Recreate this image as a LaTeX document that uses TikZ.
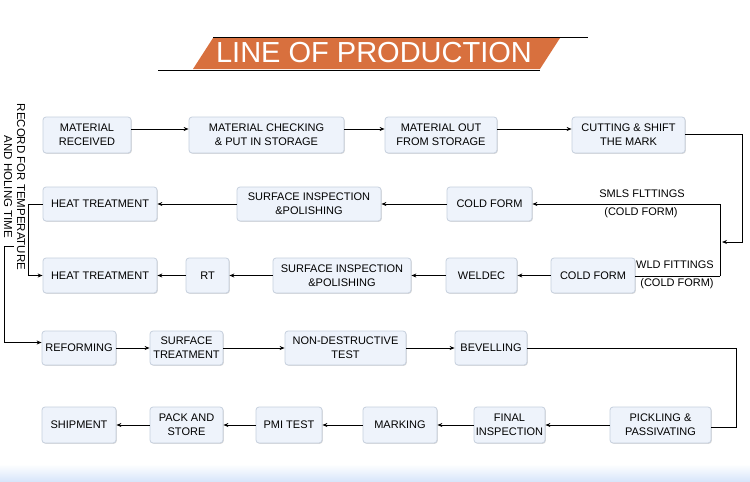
\documentclass[tikz,border=0pt]{standalone}
\usepackage{fontspec}
\setmainfont{Liberation Sans}
\usetikzlibrary{arrows.meta,shadows,calc}
\definecolor{boxfill}{RGB}{238,243,251}
\definecolor{boxline}{RGB}{198,208,222}
\definecolor{titleor}{RGB}{216,112,62}
\definecolor{bandblue}{RGB}{214,228,250}
\tikzset{
 box/.style={draw=boxline, fill=boxfill, rounded corners=3pt, line width=0.8pt, align=center, inner sep=0pt,
   font=\fontsize{11}{14}\selectfont,
   drop shadow={shadow xshift=0.8pt, shadow yshift=-0.8pt, opacity=0.15, fill=black}},
 arr/.style={line width=0.9pt, -{Stealth[length=5pt,width=4pt]}},
 ln/.style={line width=0.9pt},
 lbl/.style={font=\fontsize{11}{14}\selectfont, inner sep=0pt},
}
\newcommand\flowbox[6]{\node[box, minimum width={#4pt-#2pt}, minimum height={#5pt-#3pt}] (#1) at ({(#2+#4)/2},{(#3+#5)/2}) {#6};}
\begin{document}
\begin{tikzpicture}[x=1pt,y=-1pt]
\useasboundingbox (0,0) rectangle (750,482);
\fill[white] (0,0) rectangle (750,482);
\shade[top color=white, bottom color=bandblue] (0,464) rectangle (750,482);

% title
\fill[titleor] (213,38) -- (560,38) -- (540,69) -- (193,69) -- cycle;
\draw[line width=1pt] (213,37) -- (588,37);
\draw[line width=1pt] (158,70) -- (540,70);
\node[text=white, font=\fontsize{29}{30}\selectfont, inner sep=0pt] (title) at (374,53) {LINE OF PRODUCTION};

% boxes
\flowbox{mr}{43}{117}{131}{153}{MATERIAL\\RECEIVED}
\flowbox{mc}{189}{117}{344}{153}{MATERIAL CHECKING\\\& PUT IN STORAGE}
\flowbox{mo}{385}{117}{497}{153}{MATERIAL OUT\\FROM STORAGE}
\flowbox{cs}{572}{117}{685}{153}{CUTTING \& SHIFT\\THE MARK}
\flowbox{htA}{43}{187}{157}{221}{HEAT TREATMENT}
\flowbox{siA}{237}{187}{381}{221}{SURFACE INSPECTION\\\&POLISHING}
\flowbox{cfA}{447}{187}{532}{221}{COLD FORM}
\flowbox{htB}{43}{258}{157}{293}{HEAT TREATMENT}
\flowbox{rt}{186}{258}{229}{293}{RT}
\flowbox{siB}{273}{258}{411}{293}{SURFACE INSPECTION\\\&POLISHING}
\flowbox{wd}{446}{258}{517}{293}{WELDEC}
\flowbox{cfB}{551}{258}{635}{293}{COLD FORM}
\flowbox{rf}{42}{331}{116}{365}{REFORMING}
\flowbox{st}{150}{331}{223}{365}{SURFACE\\TREATMENT}
\flowbox{nd}{285}{331}{406}{365}{NON-DESTRUCTIVE\\TEST}
\flowbox{bv}{455}{331}{527}{365}{BEVELLING}
\flowbox{sh}{42}{407}{116}{443}{SHIPMENT}
\flowbox{ps}{150}{407}{223}{443}{PACK AND\\STORE}
\flowbox{pmi}{256}{407}{322}{443}{PMI TEST}
\flowbox{mk}{363}{407}{437}{443}{MARKING}
\flowbox{fi}{474}{407}{545}{443}{FINAL\\INSPECTION}
\flowbox{pp}{610}{407}{711}{443}{PICKLING \&\\PASSIVATING}

% row 1
\draw[arr] ([yshift=6pt]mr.east) -- ([yshift=6pt]mr.east -| mc.west);
\draw[arr] ([yshift=6pt]mc.east) -- ([yshift=6pt]mc.east -| mo.west);
\draw[arr] ([yshift=6pt]mo.east) -- ([yshift=6pt]mo.east -| cs.west);
\coordinate (jr) at (742,242);
\coordinate (j) at (722,242);
\draw[arr] ([yshift=1pt]cs.east) -| (jr) -- (j);

% split
\coordinate (vt) at (720,204);
\coordinate (vb) at (720,276);
\draw[arr] (vb) -- (vt) -- (vt -| cfA.east);
\draw[ln] (vb) -- (vb -| cfB.east);
\node[lbl] (l1) at (642,194) {SMLS FLTTINGS};
\node[lbl] (l2) at (641,213) {(COLD FORM)};
\node[lbl] (l3) at (675,265) {WLD FITTINGS};
\node[lbl] (l4) at (677,284) {(COLD FORM)};

% row 2
\draw[arr] (cfA.west) -- (siA.east);
\draw[arr] (siA.west) -- (htA.east);
% row 3
\draw[arr] (cfB.west) -- (wd.east);
\draw[arr] (wd.west) -- (siB.east);
\draw[arr] (siB.west) -- (rt.east);
\draw[arr] (rt.west) -- (htB.east);
\draw[arr] (htA.west) -- ++(-14,0) |- (htB.west);

\node[lbl, rotate=-90, align=center, font=\fontsize{11.5}{13}\selectfont] (rec) at (14.5,187) {RECORD FOR TEMPERATURE\\AND HOLING TIME};
\coordinate (b0) at (14,246);
\draw[arr] (b0) -- (4,246) |- ([yshift=5.5pt]rf.west);

% row 4
\draw[arr] (rf.east) -- (st.west);
\draw[arr] (st.east) -- (nd.west);
\draw[arr] (nd.east) -- (bv.west);
\coordinate (br) at (736,427);
\draw[ln] (bv.east) -| (br) -- (br -| pp.east);

% row 5
\draw[arr] (pp.west) -- (fi.east);
\draw[arr] (fi.west) -- (mk.east);
\draw[arr] (mk.west) -- (pmi.east);
\draw[arr] (pmi.west) -- (ps.east);
\draw[arr] (ps.west) -- (sh.east);
\end{tikzpicture}
\end{document}
